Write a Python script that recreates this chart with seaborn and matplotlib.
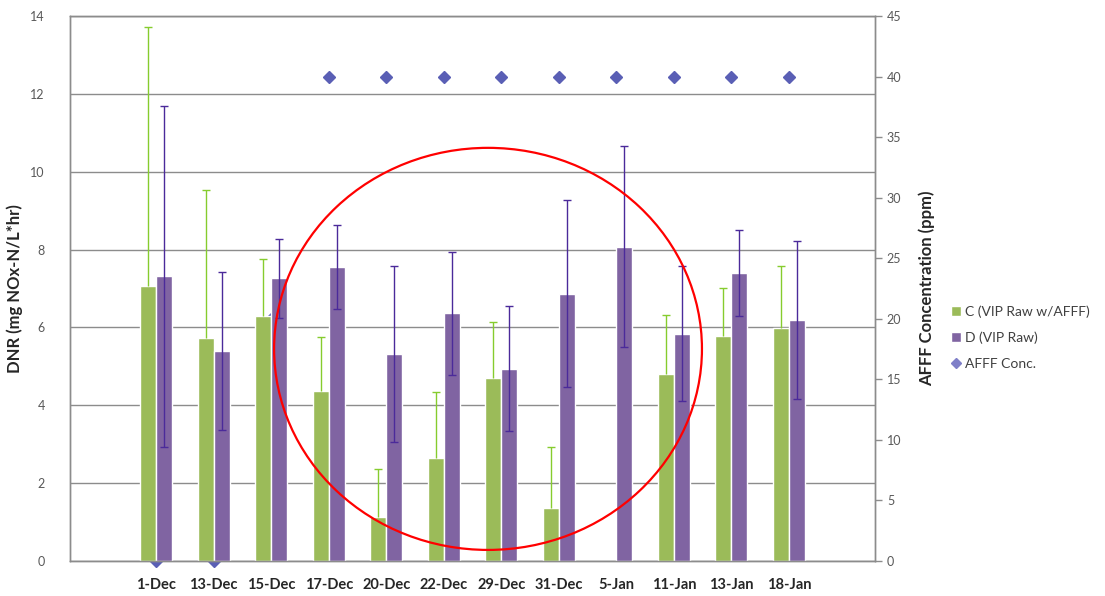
import numpy as np
import pandas as pd
import matplotlib
matplotlib.use("Agg")
import matplotlib.pyplot as plt
import seaborn as sns
from matplotlib.patches import Ellipse, Patch
from matplotlib.lines import Line2D

# datos
dates = ["1-Dec", "13-Dec", "15-Dec", "17-Dec", "20-Dec", "22-Dec",
         "29-Dec", "31-Dec", "5-Jan", "11-Jan", "13-Jan", "18-Jan"]
dnr_c = [7.07, 5.72, 6.29, 4.37, 1.14, 2.65, 4.71, 1.35, np.nan, 4.80, 5.77, 5.99]
err_c = [6.64, 3.81, 1.48, 1.39, 1.22, 1.69, 1.42, 1.57, np.nan, 1.51, 1.25, 1.58]
dnr_d = [7.31, 5.39, 7.26, 7.55, 5.31, 6.36, 4.94, 6.87, 8.08, 5.84, 7.40, 6.19]
err_d = [4.37, 2.03, 1.01, 1.07, 2.26, 1.58, 1.61, 2.41, 2.57, 1.73, 1.10, 2.04]
afff = [0, 0, 20, 40, 40, 40, 40, 40, 40, 40, 40, 40]

label_c = "C (VIP Raw w/AFFF)"
label_d = "D (VIP Raw)"
label_a = "AFFF Conc."

green = "#9BBB59"
purple = "#8064A2"
diamond = "#5A5FB5"

sns.set_style("white")
plt.rcParams["font.family"] = ["Lato", "DejaVu Sans"]

df = pd.DataFrame({
    "fecha": dates * 2,
    "dnr": dnr_c + dnr_d,
    "serie": [label_c] * len(dates) + [label_d] * len(dates),
})

fig = plt.figure(figsize=(11.05, 5.96), dpi=100)
ax = fig.add_axes([0.0633, 0.0587, 0.7286, 0.9143])
ax2 = ax.twinx()

# barras
sns.barplot(data=df, x="fecha", y="dnr", hue="serie", order=dates,
            hue_order=[label_c, label_d], palette=[green, purple],
            width=0.56, errorbar=None, saturation=1, legend=False, ax=ax)

# barras de error (C solo hacia arriba)
pos = np.arange(len(dates))
off = 0.14
eb = ax.errorbar(pos - off, dnr_c, yerr=[np.zeros(len(dates)), err_c],
                 fmt="none", ecolor="#86CC2E", elinewidth=1, capsize=3, capthick=1)
eb[1][0].set_visible(False)
ax.errorbar(pos + off, dnr_d, yerr=err_d, fmt="none", ecolor="#4B2A9A",
            elinewidth=1, capsize=3, capthick=1)

ax.set_ylim(0, 14)
ax.set_yticks(np.arange(0, 15, 2))
ax.set_xlim(-1.5, len(dates) + 0.5)
ax.yaxis.grid(True, color="#8C8C8C", lw=1)
ax.set_axisbelow(True)
ax.set_xlabel("")
ax.set_ylabel("DNR (mg NOx-N/L*hr)", fontsize=12, fontweight="bold", color="#262626", labelpad=5)
ax.tick_params(axis="y", length=0, labelsize=9, labelcolor="#595959", pad=18)
ax.tick_params(axis="x", length=0, labelsize=10.5, labelcolor="#262626", pad=12)
for lab in ax.get_xticklabels():
    lab.set_fontweight("bold")

# eje secundario
ax2.plot(pos, afff, "D", color=diamond, ms=6, clip_on=False, zorder=1)
ax2.set_ylim(0, 45)
ax2.set_yticks(np.arange(0, 46, 5))
ax2.set_ylabel("AFFF Concentration (ppm)", fontsize=12, fontweight="bold", color="#262626", labelpad=12)
ax2.tick_params(axis="y", length=5, width=1, color="#8C8C8C", labelsize=9, labelcolor="#595959", direction="out")

ax.set_zorder(ax2.get_zorder() + 1)
ax.patch.set_visible(False)

for a in (ax, ax2):
    for s in a.spines.values():
        s.set_color("#8C8C8C")
        s.set_linewidth(1)

# circulo rojo
ax.add_patch(Ellipse((5.77, 5.45), 7.44, 10.33, fill=False, edgecolor="red",
                     lw=1.6, clip_on=False, zorder=10))

handles = [
    Patch(facecolor=green, label=label_c),
    Patch(facecolor=purple, label=label_d),
    Line2D([], [], marker="D", ls="none", color="#7F7FC8", ms=5, label=label_a),
]
fig.legend(handles=handles, loc="upper left", bbox_to_anchor=(0.857, 0.495),
           frameon=False, fontsize=10, labelcolor="#404040",
           handlelength=0.7, handleheight=0.7, handletextpad=0.3, labelspacing=1.0,
           borderaxespad=0, borderpad=0.3)

fig.savefig("out.png", dpi=100)
